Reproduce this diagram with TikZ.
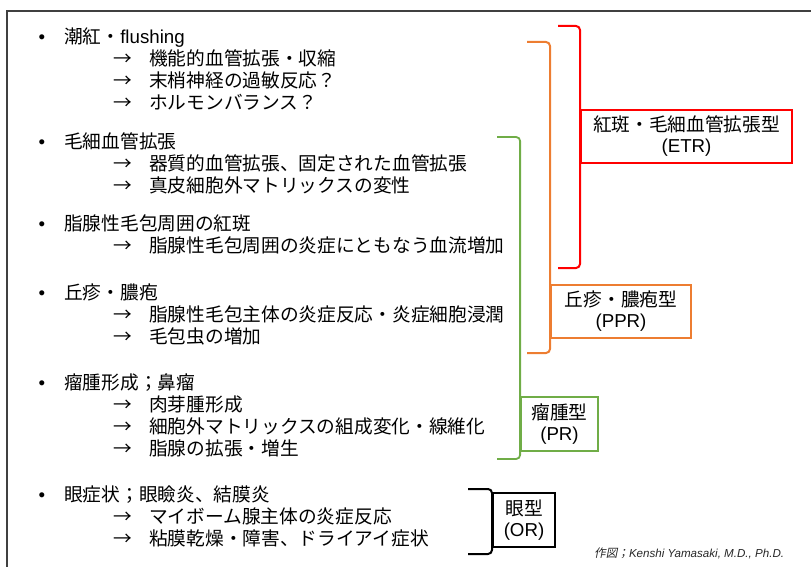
\documentclass[tikz,border=0pt]{standalone}
\usepackage{fontspec}
\setmainfont{Noto Sans CJK JP}
\newfontfamily\lat{Liberation Sans}
\newfontfamily\jpit[FakeSlant=0.2]{Noto Sans CJK JP}
\usepackage{tikz}
\definecolor{etrred}{RGB}{255,0,0}
\definecolor{pprorange}{RGB}{237,125,49}
\definecolor{prgreen}{RGB}{112,173,71}

\begin{document}
\begin{tikzpicture}[x=1pt, y=-1pt,
  txt/.style={inner sep=0, anchor=west, text height=1.08em, text depth=0pt, font=\fontsize{18.7}{21}\selectfont},
  typebox/.style={draw, line width=2, inner sep=0, align=center, font=\fontsize{18.7}{21}\selectfont},
  brace/.style={line width=2, rounded corners=4}]
  \useasboundingbox (0,0) rectangle (811,567);
  \draw[black!75, line width=2] (6.5,567) -- (6.5,11.5) -- (811,11.5);
  % main items
  \foreach \n/\y/\t in {a/38/潮紅・{\lat flushing}, b/143/毛細血管拡張, c/225/脂腺性毛包周囲の紅斑,
      d/294/丘疹・膿疱, e/384/瘤腫形成；鼻瘤, f/496/眼症状；眼瞼炎、結膜炎}{
    \node[txt, anchor=center, font=\lat\fontsize{18.7}{21}\selectfont] (dot\n) at (42,\y) {•};
    \node[txt] (item\n) at (64,\y) {\t};
  }
  % sub items
  \foreach \n/\y/\t in {a1/60/機能的血管拡張・収縮, a2/82/末梢神経の過敏反応？, a3/104/ホルモンバランス？,
      b1/165/器質的血管拡張、固定された血管拡張, b2/187/真皮細胞外マトリックスの変性,
      c1/247/脂腺性毛包周囲の炎症にともなう血流増加,
      d1/316/脂腺性毛包主体の炎症反応・炎症細胞浸潤, d2/338/毛包虫の増加,
      e1/406/肉芽腫形成, e2/428/細胞外マトリックスの組成変化・線維化, e3/450/脂腺の拡張・増生,
      f1/518/マイボーム腺主体の炎症反応, f2/540/粘膜乾燥・障害、ドライアイ症状}{
    \node[txt] (arr\n) at (113,\y) {→};
    \node[txt] (sub\n) at (149,\y) {\t};
  }
  % type boxes
  \node[typebox, draw=etrred, minimum width=211, minimum height=53] (etr) at (686.5,136.5) {紅斑・毛細血管拡張型\\{\lat (ETR)}};
  \node[typebox, draw=pprorange, minimum width=140, minimum height=53] (ppr) at (621,311.5) {丘疹・膿疱型\\{\lat (PPR)}};
  \node[typebox, draw=prgreen, line width=1.8, minimum width=77, minimum height=54] (pr) at (559.5,424) {瘤腫型\\{\lat (PR)}};
  \node[typebox, draw=black, minimum width=62, minimum height=54] (or) at (524,520) {眼型\\{\lat (OR)}};
  % brackets
  \coordinate (etrtop) at (558,26);
  \coordinate (etrbot) at (558,268);
  \coordinate (pprtop) at (527,42);
  \coordinate (pprbot) at (527,353);
  \coordinate (prtop) at (497,137);
  \coordinate (prbot) at (497,459);
  \coordinate (ortop) at (468,489);
  \coordinate (orbot) at (468,554);
  \draw[brace, etrred] (etrtop) -- (etrtop -| etr.west) -- (etrbot -| etr.west) -- (etrbot);
  \draw[brace, pprorange] (pprtop) -- (pprtop -| ppr.west) -- (pprbot -| ppr.west) -- (pprbot);
  \draw[brace, prgreen, line width=1.8] (prtop) -- (prtop -| pr.west) -- (prbot -| pr.west) -- (prbot);
  \draw[brace, black] (ortop) -- (ortop -| or.west) -- (orbot -| or.west) -- (orbot);
  \node[inner sep=0, anchor=west, black!85, font=\fontsize{11.6}{13}\selectfont] (credit) at (594,553)
    {{\jpit 作図；}{\lat\itshape Kenshi Yamasaki, M.D., Ph.D.}};
\end{tikzpicture}
\end{document}
